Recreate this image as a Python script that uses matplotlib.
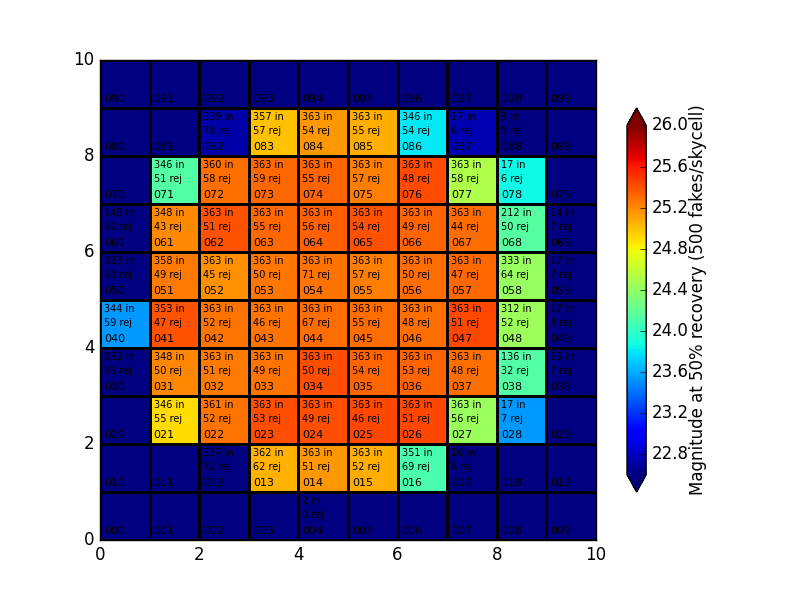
import numpy as np
import matplotlib
matplotlib.use("Agg")
import matplotlib.pyplot as plt

plt.style.use("classic")

# ============================================================
# DATA  (rows = y index 0..9, columns = x index 0..9)
# 0.0 magnitude -> no recovery (drawn with the "under" colour)
# ============================================================

NX, NY = 10, 10

mag50 = np.array([
    # y = 0
    [0.0, 0.0, 0.0, 0.0, 0.0, 0.0, 0.0, 0.0, 0.0, 0.0],
    # y = 1
    [0.0, 0.0, 0.0, 25.05, 25.15, 25.07, 24.10, 0.0, 0.0, 0.0],
    # y = 2
    [0.0, 24.90, 25.27, 25.41, 25.41, 25.44, 25.44, 24.42, 23.54, 0.0],
    # y = 3
    [0.0, 25.21, 25.25, 25.28, 25.41, 25.33, 25.33, 25.29, 24.13, 0.0],
    # y = 4
    [23.54, 25.39, 25.28, 25.28, 25.30, 25.30, 25.29, 25.43, 24.44, 0.0],
    # y = 5
    [0.0, 25.25, 25.17, 25.26, 25.28, 25.23, 25.30, 25.31, 24.41, 0.0],
    # y = 6
    [0.0, 25.19, 25.39, 25.32, 25.34, 25.40, 25.33, 25.30, 24.15, 0.0],
    # y = 7
    [0.0, 24.13, 25.29, 25.32, 25.33, 25.24, 25.42, 24.50, 23.86, 0.0],
    # y = 8
    [0.0, 0.0, 22.73, 25.00, 25.14, 25.06, 23.80, 22.75, 0.0, 0.0],
    # y = 9
    [0.0, 0.0, 0.0, 0.0, 0.0, 0.0, 0.0, 0.0, 0.0, 0.0],
])

n_in = np.array([
    [0, 0, 0, 0, 2, 0, 0, 0, 0, 0],
    [0, 0, 337, 362, 363, 363, 351, 16, 0, 0],
    [0, 346, 361, 363, 363, 363, 363, 363, 17, 0],
    [252, 348, 363, 363, 363, 363, 363, 363, 136, 16],
    [344, 353, 363, 363, 363, 363, 363, 363, 312, 17],
    [323, 358, 363, 363, 363, 363, 363, 363, 333, 17],
    [148, 348, 363, 363, 363, 363, 363, 363, 212, 14],
    [0, 346, 360, 363, 363, 363, 363, 363, 17, 0],
    [0, 0, 339, 357, 363, 363, 346, 17, 9, 0],
    [0, 0, 0, 0, 0, 0, 0, 0, 0, 0],
])

n_rej = np.array([
    [0, 0, 0, 0, 0, 0, 0, 0, 0, 0],
    [0, 0, 72, 62, 51, 52, 69, 8, 0, 0],
    [0, 55, 52, 53, 49, 46, 51, 56, 7, 0],
    [95, 50, 51, 49, 50, 54, 53, 48, 32, 7],
    [59, 47, 52, 46, 67, 55, 48, 51, 52, 8],
    [53, 49, 45, 50, 71, 57, 50, 47, 64, 7],
    [52, 43, 51, 55, 56, 54, 49, 44, 50, 7],
    [0, 51, 58, 59, 55, 57, 48, 58, 6, 0],
    [0, 0, 78, 57, 54, 55, 54, 6, 5, 0],
    [0, 0, 0, 0, 0, 0, 0, 0, 0, 0],
])

VMIN, VMAX = 22.6, 26.0

# ============================================================
# PLOT
# ============================================================

fig = plt.figure(figsize=(8, 6), dpi=100)
ax = fig.add_subplot(111)

xe = np.arange(NX + 1)
ye = np.arange(NY + 1)

mesh = ax.pcolormesh(xe, ye, mag50, cmap="jet", vmin=VMIN, vmax=VMAX,
                     edgecolors="k", linewidth=2)

for iy in range(NY):
    for ix in range(NX):
        if n_in[iy, ix] > 0:
            ax.text(ix + 0.08, iy + 0.82, f"{n_in[iy, ix]} in",
                    fontsize=7, ha="left", va="center", color="k")
            ax.text(ix + 0.08, iy + 0.53, f"{n_rej[iy, ix]} rej",
                    fontsize=7, ha="left", va="center", color="k")
        ax.text(ix + 0.08, iy + 0.19, f"0{iy}{ix}",
                fontsize=8, ha="left", va="center", color="k")

ax.set_xlim(0, NX)
ax.set_ylim(0, NY)

cb = fig.colorbar(mesh, ax=ax, shrink=0.8, extend="both")
cb.set_ticks(np.arange(22.8, 26.01, 0.4))
cb.set_label("Magnitude at 50% recovery (500 fakes/skycell)", labelpad=0)

fig.savefig("out.png", dpi=100)
